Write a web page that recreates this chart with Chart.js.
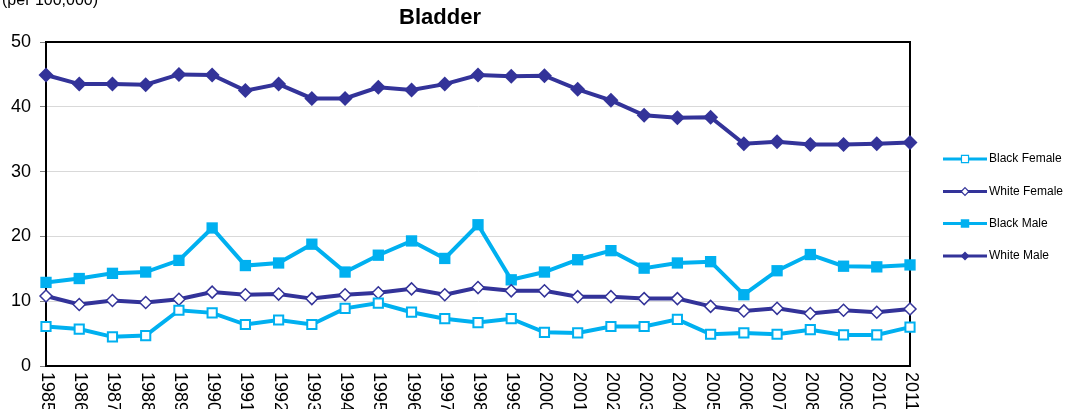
<!DOCTYPE html>
<html>
<head>
<meta charset="utf-8">
<script src="https://cdn.jsdelivr.net/npm/chart.js@4/dist/chart.umd.min.js"></script>
<style>
html,body{margin:0;padding:0;background:#fff;}
#wrap{position:relative;width:1071px;height:409px;}
</style>
</head>
<body>
<div id="wrap"><canvas id="c" width="1071" height="409"></canvas></div>
<script>
const years = ["1985","1986","1987","1988","1989","1990","1991","1992","1993","1994","1995","1996","1997","1998","1999","2000","2001","2002","2003","2004","2005","2006","2007","2008","2009","2010","2011"];
const blackFemale = [6.1,5.7,4.5,4.7,8.6,8.2,6.4,7.1,6.4,8.9,9.7,8.3,7.3,6.7,7.3,5.2,5.1,6.1,6.1,7.2,4.9,5.1,4.9,5.6,4.8,4.8,6.0];
const whiteFemale = [10.8,9.5,10.1,9.8,10.3,11.4,11.0,11.1,10.4,11.0,11.3,11.9,11.0,12.1,11.6,11.6,10.7,10.7,10.4,10.4,9.2,8.5,8.9,8.1,8.6,8.3,8.8];
const blackMale = [12.9,13.5,14.3,14.5,16.3,21.3,15.5,15.9,18.8,14.5,17.1,19.3,16.6,21.8,13.3,14.5,16.4,17.8,15.1,15.9,16.1,11.0,14.7,17.2,15.4,15.3,15.6];
const whiteMale = [44.9,43.5,43.5,43.4,45.0,44.9,42.5,43.5,41.3,41.3,43.0,42.6,43.5,44.9,44.7,44.8,42.7,41.0,38.7,38.3,38.4,34.3,34.6,34.2,34.2,34.3,34.5];
const yTicks = [0,10,20,30,40,50];
const titleText = "Bladder";
const unitText = "(per 100,000)";

const LIGHT = "#00B0F0";
const NAVY = "#333399";
const FONT = "'Liberation Sans', Arial, sans-serif";

const datasets = [
  {label:"Black Female", data:blackFemale, borderColor:LIGHT, backgroundColor:"#ffffff", borderWidth:4,
   pointStyle:"rect", pointRadius:6.5, pointBorderWidth:2, pointBorderColor:LIGHT, pointBackgroundColor:"#ffffff", clip:false, tension:0},
  {label:"White Female", data:whiteFemale, borderColor:NAVY, backgroundColor:"#ffffff", borderWidth:4,
   pointStyle:"rectRot", pointRadius:6, pointBorderWidth:1.5, pointBorderColor:NAVY, pointBackgroundColor:"#ffffff", clip:false, tension:0},
  {label:"Black Male", data:blackMale, borderColor:LIGHT, backgroundColor:LIGHT, borderWidth:4,
   pointStyle:"rect", pointRadius:8, pointBorderWidth:0, pointBackgroundColor:LIGHT, clip:false, tension:0},
  {label:"White Male", data:whiteMale, borderColor:NAVY, backgroundColor:NAVY, borderWidth:4,
   pointStyle:"rectRot", pointRadius:7.5, pointBorderWidth:0, pointBackgroundColor:NAVY, clip:false, tension:0}
];

function drawMarker(ctx, style, x, y, r, fill, stroke, lw){
  ctx.save();
  ctx.beginPath();
  if(style==="rect"){
    const s = r*Math.SQRT1_2;
    ctx.rect(x-s,y-s,2*s,2*s);
  } else {
    ctx.moveTo(x, y-r); ctx.lineTo(x+r, y); ctx.lineTo(x, y+r); ctx.lineTo(x-r, y); ctx.closePath();
  }
  ctx.fillStyle = fill; ctx.fill();
  if(lw>0){ ctx.lineWidth = lw; ctx.strokeStyle = stroke; ctx.stroke(); }
  ctx.restore();
}

const decor = {
  id:"decor",
  beforeDatasetsDraw(chart){
    const {ctx, chartArea:a} = chart;
    ctx.save();
    ctx.strokeStyle = "#000"; ctx.lineWidth = 2;
    ctx.strokeRect(a.left, a.top, a.right-a.left, a.bottom-a.top);
    ctx.restore();
  },
  afterDraw(chart){
    const {ctx, chartArea:a} = chart;
    const xs = chart.scales.x;
    ctx.save();
    ctx.fillStyle = "#000";
    ctx.font = "18px " + FONT;
    ctx.textAlign = "left";
    ctx.textBaseline = "middle";
    years.forEach((lab,i)=>{
      const x = xs.getPixelForValue(i);
      ctx.save();
      ctx.translate(x+1, a.bottom+6);
      ctx.rotate(Math.PI/2);
      ctx.fillText(lab, 0, 0);
      ctx.restore();
    });
    ctx.font = "bold 22px " + FONT;
    ctx.textAlign = "center";
    ctx.textBaseline = "middle";
    ctx.fillText(titleText, 440, 18);
    ctx.font = "16px " + FONT;
    ctx.textAlign = "left";
    ctx.textBaseline = "alphabetic";
    ctx.fillText(unitText, 2, 5);
    const rows = [159, 191.5, 223.5, 256];
    chart.data.datasets.forEach((ds,i)=>{
      const y = rows[i];
      ctx.strokeStyle = ds.borderColor; ctx.lineWidth = 3;
      ctx.beginPath(); ctx.moveTo(943,y); ctx.lineTo(987,y); ctx.stroke();
      const small = ds.pointStyle==="rect" ? (ds.pointBorderWidth>0?5:6) : (ds.pointBorderWidth>0?3.8:4.5);
      drawMarker(ctx, ds.pointStyle, 965, y, small, ds.pointBackgroundColor, ds.pointBorderColor||ds.borderColor, ds.pointBorderWidth>0?1.2:0);
      ctx.fillStyle = "#000";
      ctx.font = "12px " + FONT;
      ctx.textAlign = "left";
      ctx.textBaseline = "middle";
      ctx.fillText(ds.label, 989, y);
    });
    ctx.restore();
  }
};

new Chart(document.getElementById("c"), {
  type:"line",
  data:{labels:years, datasets:datasets},
  options:{
    responsive:false,
    animation:false,
    devicePixelRatio:1,
    layout:{padding:{top:42,right:161,left:0,bottom:0}},
    plugins:{legend:{display:false}, title:{display:false}, tooltip:{enabled:false}},
    elements:{line:{tension:0}},
    scales:{
      x:{
        type:"category",
        offset:false,
        grid:{display:false, drawTicks:false},
        border:{display:true, color:"#000", width:2},
        ticks:{display:false},
        afterFit(s){ s.height = 43; }
      },
      y:{
        min:0, max:50,
        afterBuildTicks(s){ s.ticks = yTicks.map(v=>({value:v})); },
        grid:{color:(c)=> (c.tick && (c.tick.value===0||c.tick.value===50)) ? "rgba(0,0,0,0)" : "#d9d9d9", lineWidth:1, tickLength:6, tickColor:"#808080", drawTicks:true},
        border:{display:true, color:"#000", width:2},
        ticks:{color:"#000", font:{size:18, family:FONT}, padding:9},
        afterFit(s){ s.width = 46; }
      }
    }
  },
  plugins:[decor]
});
</script>
</body>
</html>
